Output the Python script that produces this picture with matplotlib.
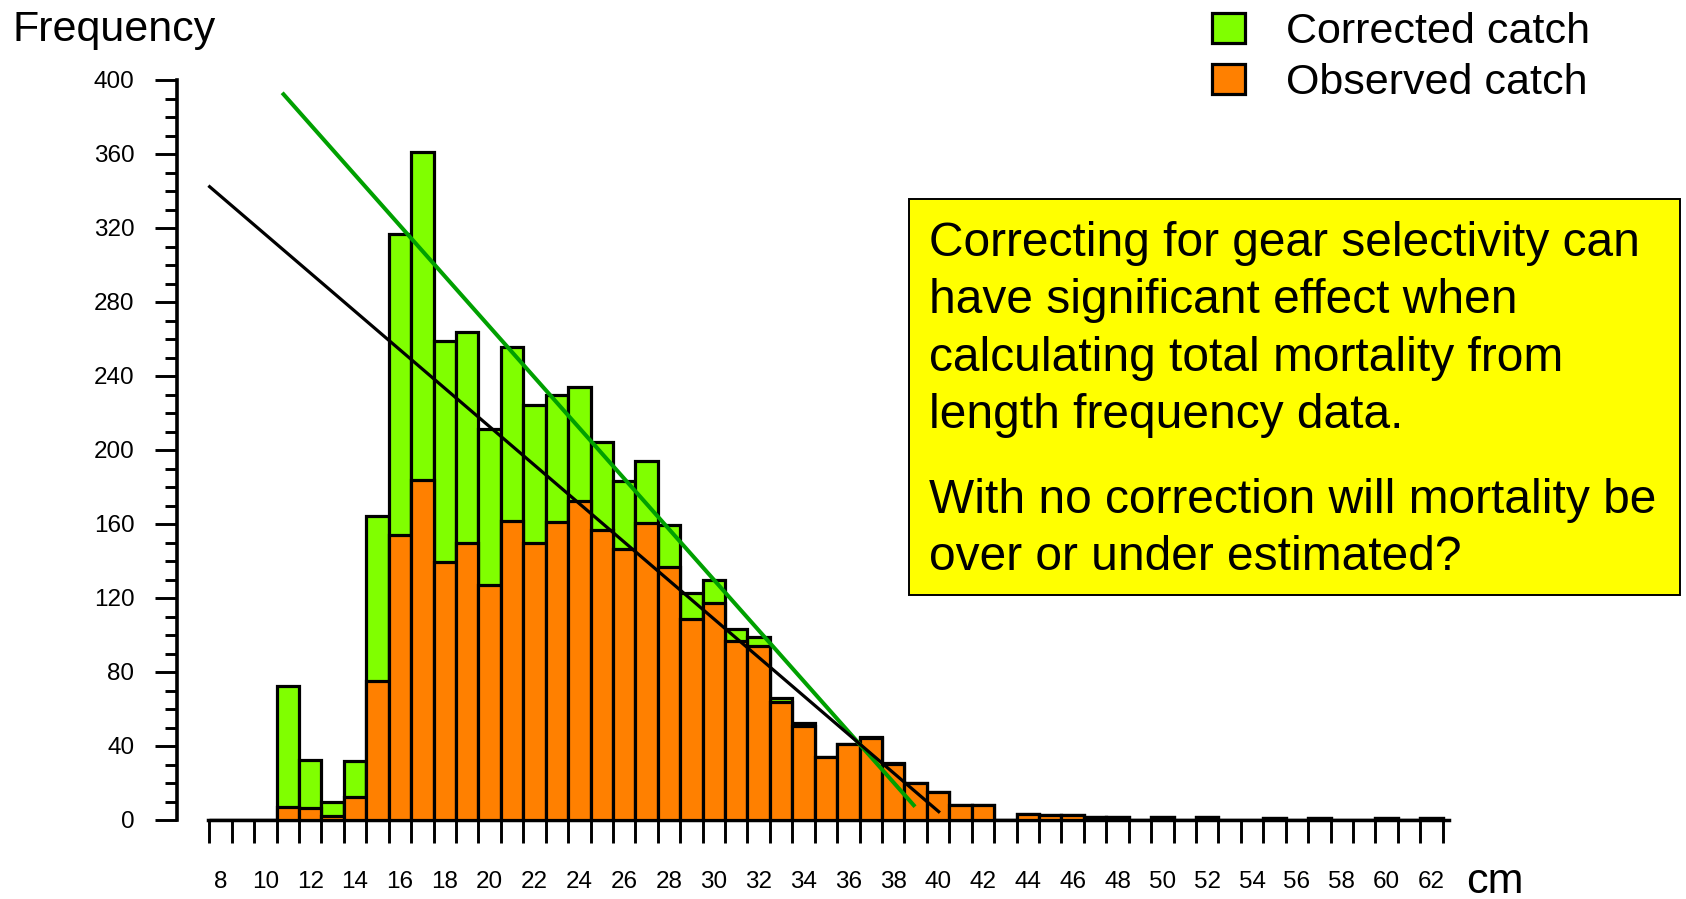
import matplotlib
matplotlib.use('Agg')
import matplotlib.pyplot as plt
from matplotlib.patches import Rectangle
from matplotlib.ticker import MultipleLocator, FixedLocator
import numpy as np

plt.rcParams['font.family'] = ['Liberation Sans', 'DejaVu Sans']

# ---------------- data ----------------
lengths = list(range(8, 63))  # length class centres, cm
observed = [0, 0, 0, 7, 6.5, 2, 12.5, 75, 154, 184, 139.5, 150, 127, 161.5, 150, 161,
            172.5, 157, 146.5, 160.5, 137, 108.5, 117.5, 97, 94, 64, 51, 34, 41, 44.5,
            30.5, 20, 15, 8, 8, 0, 3.5, 2.5, 2.5, 1.5, 1.5, 0, 1.5, 0, 1.5, 0, 0, 1,
            0, 1, 0, 0, 1, 0, 1]
corrected = [0, 0, 0, 72.5, 32.5, 9.5, 32, 164.5, 316.5, 361, 259, 264, 211.5, 255.5,
             224.5, 229.5, 234, 204.5, 183, 194, 159.5, 122.5, 129.5, 103.5, 99, 66,
             52.2, 34.2, 41, 44.7, 30.6, 20.2, 15, 8, 8, 0, 3.5, 2.5, 2.5, 1.5, 1.5, 0,
             1.5, 0, 1.5, 0, 0, 1, 0, 1, 0, 0, 1, 0, 1]
# fitted lines (end points)
corr_line_x = [10.75, 38.97]
corr_line_y = [393.1, 7.2]
obs_line_x = [7.46, 40.08]
obs_line_y = [342.9, 3.96]

x_label_values = list(range(8, 63, 2))
x_tick_edges = list(np.arange(7.5, 63.0, 1.0))
series_names = ['Corrected catch', 'Observed catch']
box_lines_1 = ['Correcting for gear selectivity can',
               'have significant effect when',
               'calculating total mortality from',
               'length frequency data.']
box_lines_2 = ['With no correction will mortality be',
               'over or under estimated?']

# ---------------- layout ----------------
W, H = 1686, 899
fig = plt.figure(figsize=(W / 100, H / 100), dpi=100)

PX_PER_CM = 22.425
X0_PX = 209.3  # pixel of x = 7.5


def xpx(x):
    return X0_PX + (x - 7.5) * PX_PER_CM


xl, xr = 6.07, 62.78
y0_px, y400_px = 820.0, 80.0
ax = fig.add_axes([xpx(xl) / W, (H - y0_px) / H,
                   (xpx(xr) - xpx(xl)) / W, (y0_px - y400_px) / H])
ax.set_xlim(xl, xr)
ax.set_ylim(0, 400)

GREEN = '#80FF00'
ORANGE = '#FF8000'

b1 = ax.bar(lengths, corrected, width=1.0, color=GREEN, edgecolor='black',
            linewidth=2.3, zorder=2, label=series_names[0])
b2 = ax.bar(lengths, observed, width=1.0, color=ORANGE, edgecolor='black',
            linewidth=2.3, zorder=3, label=series_names[1])
ax.plot(corr_line_x, corr_line_y, color='#00A000', lw=2.9, zorder=4,
        solid_capstyle='butt')
ax.plot(obs_line_x, obs_line_y, color='black', lw=2.3, zorder=5,
        solid_capstyle='butt')

for s in ['top', 'right']:
    ax.spines[s].set_visible(False)
ax.spines['left'].set_bounds(0, 400)
ax.spines['left'].set_linewidth(2.6)
ax.spines['bottom'].set_bounds(7.45, 62.78)
ax.spines['bottom'].set_linewidth(2.5)

ax.yaxis.set_major_locator(MultipleLocator(40))
ax.yaxis.set_minor_locator(MultipleLocator(10))
ax.tick_params(axis='y', which='major', direction='out', length=15.8, width=2.1,
               labelsize=17.5, pad=15)
ax.tick_params(axis='y', which='minor', direction='out', length=8.3, width=2.1)

ax.xaxis.set_major_locator(FixedLocator(x_tick_edges))
ax.xaxis.set_minor_locator(FixedLocator(x_label_values))
ax.set_xticklabels([], minor=False)
ax.set_xticklabels([str(v) for v in x_label_values], minor=True)
ax.tick_params(axis='x', which='major', direction='out', length=16.6, width=2.1,
               labelbottom=False)
ax.tick_params(axis='x', which='minor', length=0, labelsize=17.5, pad=37)

# axis titles
fig.text(13 / W, 1 - 41 / H, 'Frequency', fontsize=31, va='baseline', ha='left')
fig.text(1466 / W, 1 - 893 / H, 'cm', fontsize=31, va='baseline', ha='left')

# legend
leg = ax.legend(handles=[b1, b2], labels=series_names, loc='upper left',
                bbox_to_anchor=(1212 / W, 1 - 12 / H), bbox_transform=fig.transFigure,
                frameon=False, fontsize=31, handlelength=0.77, handleheight=0.72,
                handletextpad=0.95, labelspacing=0.26, borderpad=0, borderaxespad=0)

# annotation box
fig.patches.append(Rectangle((909 / W, 1 - 595 / H), (1680 - 909) / W, (595 - 199) / H,
                             transform=fig.transFigure, facecolor='#FFFF00',
                             edgecolor='black', linewidth=1.4, zorder=1))
baselines_1 = [256, 313.3, 370.7, 428.3]
baselines_2 = [513.3, 570]
for txt, yb in zip(box_lines_1 + box_lines_2, baselines_1 + baselines_2):
    fig.text(929 / W, 1 - yb / H, txt, fontsize=34.5, va='baseline', ha='left', zorder=2)

fig.savefig('out.png', dpi=100)
